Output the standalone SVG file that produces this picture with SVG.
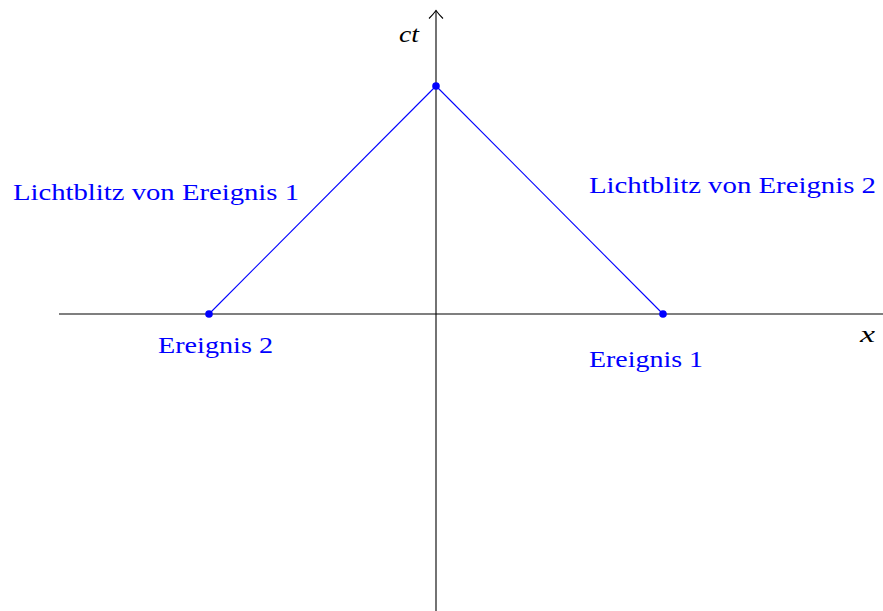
<svg xmlns="http://www.w3.org/2000/svg" width="883" height="611" viewBox="0 0 883 611">
<style>
.axis{stroke:#000;stroke-width:1.1;fill:none}
.ray{stroke:#0000ff;stroke-width:1.1;fill:none}
.dot{fill:#0000ff}
.lbl{font-family:"Liberation Serif","Times New Roman",serif;font-size:23px;fill:#0000ff}
.ax{font-family:"Liberation Serif","Times New Roman",serif;font-size:24px;font-style:italic;fill:#000}
</style>
<rect width="883" height="611" fill="#fff"/>
<g id="axes">
<line class="axis" x1="59" y1="314" x2="883" y2="314"/>
<line class="axis" x1="436" y1="611" x2="436" y2="10.5"/>
<path class="axis" d="M429,18.5 Q433.5,14 436,10.5 Q438.5,14 443,18.5"/>
<text class="ax" x="399" y="42" textLength="20" lengthAdjust="spacingAndGlyphs">ct</text>
<text class="ax" x="860" y="342" textLength="15" lengthAdjust="spacingAndGlyphs">x</text>
</g>
<g id="connectors">
<line class="ray" x1="209" y1="314" x2="436" y2="86"/>
<line class="ray" x1="663" y1="314" x2="436" y2="86"/>
</g>
<g id="event1"><circle class="dot" cx="663" cy="314" r="3.8"/><text class="lbl" x="589" y="367" textLength="114" lengthAdjust="spacingAndGlyphs">Ereignis 1</text></g>
<g id="event2"><circle class="dot" cx="209" cy="314" r="3.8"/><text class="lbl" x="158" y="353" textLength="115" lengthAdjust="spacingAndGlyphs">Ereignis 2</text></g>
<g id="apex"><circle class="dot" cx="436" cy="86" r="3.8"/></g>
<g id="label1"><text class="lbl" x="13" y="200" textLength="286" lengthAdjust="spacingAndGlyphs">Lichtblitz von Ereignis 1</text></g>
<g id="label2"><text class="lbl" x="589" y="193" textLength="287" lengthAdjust="spacingAndGlyphs">Lichtblitz von Ereignis 2</text></g>
</svg>
